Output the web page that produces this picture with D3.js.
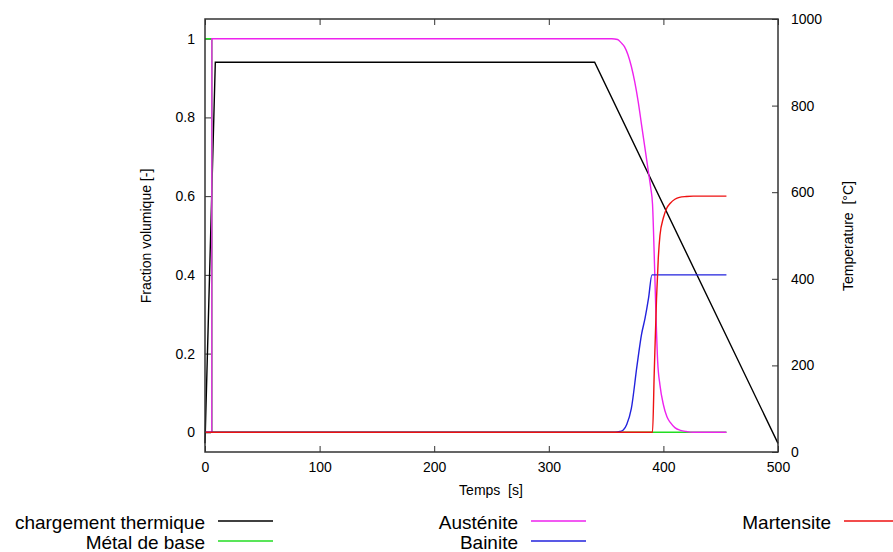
<!DOCTYPE html>
<html><head><meta charset="utf-8">
<script src="https://cdn.jsdelivr.net/npm/d3@7"></script>
<style>body{margin:0;background:#fff;} text{font-family:"Liberation Sans",Arial,sans-serif;fill:#000;white-space:pre;}</style>
</head><body>
<svg id="chart" width="893" height="552"></svg>
<script>
// ---- data ----
const xTicks = [0, 100, 200, 300, 400, 500];
const yLeftTicks = [0, 0.2, 0.4, 0.6, 0.8, 1];
const yRightTicks = [0, 200, 400, 600, 800, 1000];

const tempTime = [0, 9, 340, 500];
const tempValue = [20, 900, 900, 20];

const baseTime = [0, 6, 6.05, 455];
const baseValue = [1, 1, 0, 0];

const austTime = [0, 5.95, 6, 355, 360, 363, 366, 369, 372, 375, 378, 381, 384, 387, 389, 390.5, 392, 393.5, 395, 397, 400, 403, 406, 410, 415, 420, 426, 455];
const austValue = [0, 0, 1, 1, 0.998, 0.99, 0.98, 0.96, 0.93, 0.89, 0.84, 0.78, 0.72, 0.66, 0.62, 0.58, 0.45, 0.30, 0.18, 0.12, 0.07, 0.04, 0.025, 0.012, 0.005, 0.002, 0, 0];

const bainTime = [0, 358, 362, 365, 368, 372, 377, 381, 384, 387, 390, 455];
const bainValue = [0, 0, 0.002, 0.006, 0.02, 0.06, 0.17, 0.25, 0.29, 0.34, 0.40, 0.40];

const martTime = [0, 390.5, 392, 394, 395.5, 397, 400, 403, 406, 410, 414, 420, 426, 455];
const martValue = [0, 0, 0.15, 0.34, 0.44, 0.50, 0.545, 0.57, 0.582, 0.592, 0.597, 0.599, 0.6, 0.6];

const seriesNames = ["chargement thermique", "Métal de base", "Austénite", "Bainite", "Martensite"];
const seriesColors = ["#000000", "#22dd22", "#ee22ee", "#2222dd", "#ee1111"];

// ---- chart ----
const svg = d3.select("#chart");
const L = 205, R = 778, T = 19, B = 452;
const x = d3.scaleLinear().domain([0, 500]).range([L, R]);
const yL = d3.scaleLinear().domain([-0.05, 1.05]).range([B, T]);
const yR = d3.scaleLinear().domain([0, 1000]).range([B, T]);

const axisColor = "#333";
function styleAxis(g) {
  g.select(".domain").remove();
  g.selectAll(".tick line").attr("stroke", axisColor).attr("stroke-width", 1);
  g.selectAll(".tick text").style("font-family", "Liberation Sans, Arial, sans-serif").style("font-size", "14px").attr("fill", "#000");
}

svg.append("g").attr("transform", `translate(0,${B})`)
  .call(d3.axisBottom(x).tickValues(xTicks).tickFormat(d3.format("d")).tickSize(-6).tickPadding(10))
  .call(styleAxis);
svg.append("g").attr("transform", `translate(0,${T})`)
  .call(d3.axisTop(x).tickValues(xTicks).tickFormat("").tickSize(-6))
  .call(styleAxis);
svg.append("g").attr("transform", `translate(${L},0)`)
  .call(d3.axisLeft(yL).tickValues(yLeftTicks).tickFormat(d => d3.format("~g")(d)).tickSize(-6).tickPadding(10))
  .call(styleAxis);
svg.append("g").attr("transform", `translate(${R},0)`)
  .call(d3.axisRight(yR).tickValues(yRightTicks).tickFormat(d3.format("d")).tickSize(-6).tickPadding(13))
  .call(styleAxis);

const lineL = d3.line().x(d => x(d[0])).y(d => yL(d[1]));
const lineLs = d3.line().x(d => x(d[0])).y(d => yL(d[1])).curve(d3.curveMonotoneX);
const lineR = d3.line().x(d => x(d[0])).y(d => yR(d[1]));

const zip = (a, b) => a.map((t, i) => [t, b[i]]);
const plotG = svg.append("g");
plotG.append("path").attr("d", lineR(zip(tempTime, tempValue))).attr("fill", "none").attr("stroke", seriesColors[0]).attr("stroke-width", 1.4);
plotG.append("path").attr("d", lineL(zip(baseTime, baseValue))).attr("fill", "none").attr("stroke", seriesColors[1]).attr("stroke-width", 1.4);
plotG.append("path").attr("d", lineLs(zip(austTime, austValue))).attr("fill", "none").attr("stroke", seriesColors[2]).attr("stroke-width", 1.4);
plotG.append("path").attr("d", lineLs(zip(bainTime, bainValue))).attr("fill", "none").attr("stroke", seriesColors[3]).attr("stroke-width", 1.4);
plotG.append("path").attr("d", lineLs(zip(martTime, martValue))).attr("fill", "none").attr("stroke", seriesColors[4]).attr("stroke-width", 1.4);

// border
svg.append("rect").attr("x", L).attr("y", T).attr("width", R - L).attr("height", B - T)
  .attr("fill", "none").attr("stroke", axisColor).attr("stroke-width", 1.5);

// axis titles
svg.append("text").attr("x", 491).attr("y", 495).attr("text-anchor", "middle").style("font-size", "14px").text("Temps  [s]");
svg.append("text").attr("transform", "translate(151,236) rotate(-90)").attr("text-anchor", "middle").style("font-size", "14px").text("Fraction volumique [-]");
svg.append("text").attr("transform", "translate(853,236) rotate(-90)").attr("text-anchor", "middle").style("font-size", "14px").text("Temperature  [°C]");

// legend
const legPos = [[205, 521], [205, 541], [518, 521], [518, 541], [831, 521]];
seriesNames.forEach((name, i) => {
  const [tx, ly] = legPos[i];
  svg.append("text").attr("x", tx).attr("y", ly + 8).attr("text-anchor", "end").style("font-size", "19px").text(name);
  svg.append("line").attr("x1", tx + 13).attr("x2", tx + 68).attr("y1", ly).attr("y2", ly)
    .attr("stroke", seriesColors[i]).attr("stroke-width", 1.5);
});
</script>
</body></html>
